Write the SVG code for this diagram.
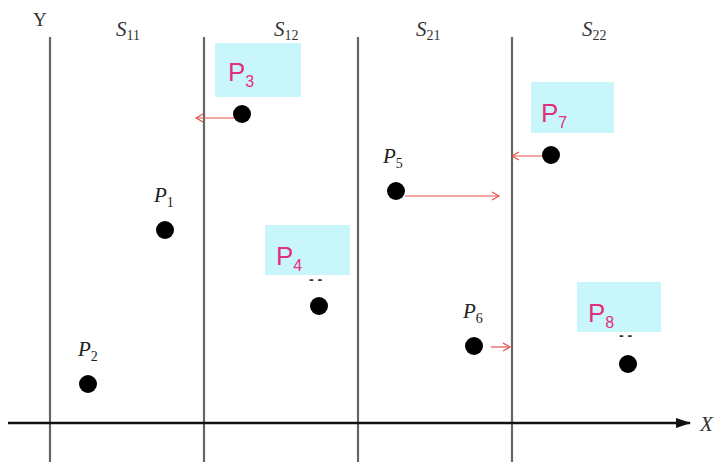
<svg xmlns="http://www.w3.org/2000/svg" width="728" height="464" viewBox="0 0 728 464">
<defs>
<style>
.vl{stroke:#666;stroke-width:2.2;fill:none}
.ax{stroke:#111;stroke-width:2.5;fill:none}
.ar{stroke:#e8504a;stroke-width:1.2;fill:none}
.dot{fill:#000}
.box{fill:#c9f6fb}
.pl{font-family:"Liberation Sans",Arial,sans-serif;font-size:26px;fill:#e0307e}
.ps{font-family:"Liberation Serif","Times New Roman",serif;font-style:italic;font-size:21px;fill:#222}
.sl{font-family:"Liberation Serif","Times New Roman",serif;font-style:italic;font-size:21px;fill:#333}
.sub{font-size:14px;font-style:normal}
.sm{font-size:16px}
.dd{font-family:"Liberation Sans",sans-serif;font-size:14px;font-weight:bold;fill:#333}
</style>
<marker id="ra" markerWidth="10" markerHeight="10" refX="8" refY="5" orient="auto" markerUnits="userSpaceOnUse">
<path d="M1,1 L8,5 L1,9" fill="none" stroke="#e8504a" stroke-width="1.2"/>
</marker>
<marker id="xa" markerWidth="16" markerHeight="12" refX="14" refY="6" orient="auto" markerUnits="userSpaceOnUse">
<path d="M0,1 L15,6 L0,11 Z" fill="#111"/>
</marker>
</defs>
<g id="axes">
<line class="vl" x1="50" y1="37" x2="50" y2="462"/>
<line class="vl" x1="204" y1="37" x2="204" y2="462"/>
<line class="vl" x1="358" y1="37" x2="358" y2="462"/>
<line class="vl" x1="512" y1="37" x2="512" y2="462"/>
<line class="ax" x1="8" y1="423" x2="690" y2="423" marker-end="url(#xa)"/>
<text class="sl" x="700" y="431">X</text>
<text class="sl" x="33" y="26" style="font-style:normal;font-size:19px">Y</text>
<text class="sl" x="116" y="36">S<tspan class="sub" dy="4">11</tspan></text>
<text class="sl" x="274" y="36">S<tspan class="sub" dy="4">12</tspan></text>
<text class="sl" x="416" y="36">S<tspan class="sub" dy="4">21</tspan></text>
<text class="sl" x="582" y="36">S<tspan class="sub" dy="4">22</tspan></text>
</g>
<g id="connectors">
<line class="ar" x1="236" y1="118" x2="196" y2="118" marker-end="url(#ra)"/>
<line class="ar" x1="405" y1="196" x2="499" y2="196" marker-end="url(#ra)"/>
<line class="ar" x1="545" y1="156" x2="512" y2="156" marker-end="url(#ra)"/>
<line class="ar" x1="491" y1="347" x2="510" y2="347" marker-end="url(#ra)"/>
</g>
<g id="P1">
<text class="ps" x="154" y="202">P<tspan class="sub" dy="5">1</tspan></text>
<circle class="dot" cx="165" cy="230" r="9"/>
</g>
<g id="P2">
<text class="ps" x="78" y="356">P<tspan class="sub" dy="5">2</tspan></text>
<circle class="dot" cx="88" cy="384" r="9"/>
</g>
<g id="P3">
<rect class="box" x="215" y="43" width="86" height="54"/>
<text class="pl" x="228" y="81">P<tspan class="sm" dy="6">3</tspan></text>
<circle class="dot" cx="242" cy="114" r="9"/>
</g>
<g id="P4">
<rect class="box" x="265" y="225" width="85" height="50"/>
<text class="pl" x="276" y="265">P<tspan class="sm" dy="6">4</tspan></text>
<text class="dd" x="309" y="284">- -</text>
<circle class="dot" cx="319" cy="306" r="9"/>
</g>
<g id="P5">
<text class="ps" x="383" y="163">P<tspan class="sub" dy="5">5</tspan></text>
<circle class="dot" cx="396" cy="191" r="9"/>
</g>
<g id="P6">
<text class="ps" x="463" y="318">P<tspan class="sub" dy="5">6</tspan></text>
<circle class="dot" cx="474" cy="346" r="9"/>
</g>
<g id="P7">
<rect class="box" x="531" y="82" width="83" height="51"/>
<text class="pl" x="541" y="122">P<tspan class="sm" dy="6">7</tspan></text>
<circle class="dot" cx="551" cy="155" r="9"/>
</g>
<g id="P8">
<rect class="box" x="577" y="282" width="84" height="50"/>
<text class="pl" x="588" y="322">P<tspan class="sm" dy="6">8</tspan></text>
<text class="dd" x="619" y="340">- -</text>
<circle class="dot" cx="628" cy="364" r="9"/>
</g>
</svg>
